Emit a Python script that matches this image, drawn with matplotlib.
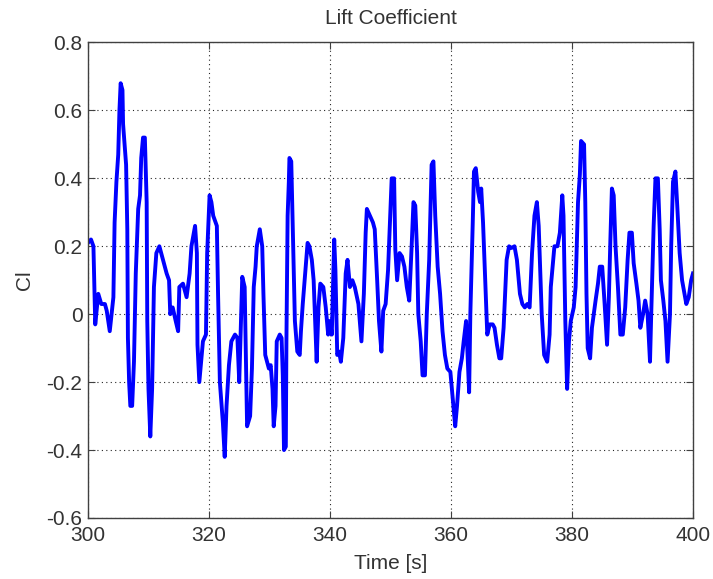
import matplotlib
matplotlib.use("Agg")
import matplotlib.pyplot as plt

plt.rcParams['font.family'] = ['Liberation Sans', 'DejaVu Sans']
plt.rcParams['axes.unicode_minus'] = False

# time samples [s]
time = [300.0, 300.5, 300.9, 301.2, 301.7, 302.2, 302.8, 303.1, 303.6, 304.2,
        304.4, 304.7, 305.0, 305.2, 305.4, 305.7, 305.8, 306.3, 306.5, 306.6,
        306.8, 307.0, 307.3, 307.6, 307.9, 308.3, 308.6, 308.8, 309.1, 309.4,
        309.7, 309.8, 310.0, 310.3, 310.6, 310.9, 311.3, 311.8, 312.4, 313.0,
        313.4, 313.6, 314.0, 314.5, 314.9, 315.1, 315.7, 316.3, 316.8, 317.1,
        317.7, 318.0, 318.1, 318.4, 319.0, 319.5, 319.7, 320.1, 320.4, 320.7,
        321.3, 321.5, 321.8, 322.3, 322.6, 322.9, 323.3, 323.7, 324.3, 324.7,
        325.0, 325.2, 325.5, 325.9, 326.3, 326.8, 327.1, 327.4, 327.7, 327.9,
        328.4, 328.8, 329.0, 329.3, 329.9, 330.2, 330.5, 330.7, 331.0, 331.2,
        331.7, 332.0, 332.2, 332.4, 332.7, 332.8, 333.0, 333.2, 333.3, 333.6,
        333.8, 334.0, 334.2, 334.6, 335.0, 335.2, 335.5, 335.9, 336.3, 336.6,
        337.0, 337.3, 337.8, 338.1, 338.4, 338.9, 339.3, 339.7, 340.0, 340.3,
        340.7, 340.9, 341.2, 341.5, 341.8, 342.2, 342.6, 342.9, 343.3, 343.7,
        344.1, 344.7, 345.2, 345.6, 345.9, 346.1, 346.6, 347.1, 347.4, 347.8,
        348.1, 348.5, 348.8, 349.2, 349.6, 350.2, 350.6, 350.8, 351.1, 351.5,
        351.9, 352.3, 352.7, 353.1, 353.5, 353.8, 354.1, 354.4, 354.6, 355.0,
        355.3, 355.7, 356.0, 356.4, 356.8, 357.1, 357.4, 357.8, 358.2, 358.6,
        359.0, 359.4, 359.9, 360.4, 360.7, 361.0, 361.4, 361.8, 362.1, 362.5,
        362.7, 363.0, 363.2, 363.6, 363.8, 364.1, 364.5, 364.8, 365.0, 365.3,
        365.6, 366.0, 366.4, 366.9, 367.2, 367.6, 368.0, 368.3, 368.7, 369.2,
        369.6, 370.0, 370.5, 370.9, 371.4, 371.8, 372.2, 372.6, 373.0, 373.4,
        373.8, 374.2, 374.5, 375.0, 375.4, 375.9, 376.3, 376.5, 376.9, 377.1,
        377.6, 378.0, 378.4, 378.6, 378.9, 379.2, 379.5, 379.8, 380.3, 380.6,
        381.0, 381.3, 381.5, 382.0, 382.2, 382.4, 382.6, 383.0, 383.3, 383.9,
        384.3, 384.6, 385.0, 385.4, 385.8, 386.1, 386.35, 386.6, 386.9, 387.2,
        387.6, 388.0, 388.4, 388.8, 389.2, 389.5, 389.9, 390.2, 390.65, 391.0,
        391.3, 391.75, 392.1, 392.5, 392.9, 393.1, 393.5, 393.8, 394.2, 394.5,
        394.7, 395.1, 395.45, 395.8, 396.2, 396.4, 396.7, 397.1, 397.4, 397.8,
        398.2, 398.6, 398.9, 399.3, 399.7, 400.0]

# lift coefficient at those times
cl = [0.21, 0.22, 0.20, -0.03, 0.06, 0.03, 0.03, 0.01, -0.05, 0.05,
      0.27, 0.39, 0.47, 0.60, 0.68, 0.66, 0.56, 0.44, 0.25, -0.07,
      -0.20, -0.27, -0.27, -0.14, 0.12, 0.31, 0.35, 0.46, 0.52, 0.52,
      0.33, -0.02, -0.22, -0.36, -0.22, 0.08, 0.18, 0.20, 0.16, 0.12,
      0.10, 0.00, 0.02, -0.02, -0.05, 0.08, 0.09, 0.05, 0.12, 0.20,
      0.26, 0.18, -0.09, -0.20, -0.08, -0.06, 0.18, 0.35, 0.33, 0.29,
      0.26, 0.06, -0.20, -0.32, -0.42, -0.27, -0.15, -0.08, -0.06, -0.07,
      -0.20, -0.08, 0.11, 0.08, -0.33, -0.30, -0.16, 0.08, 0.14, 0.20,
      0.25, 0.20, 0.06, -0.12, -0.16, -0.15, -0.22, -0.33, -0.27, -0.08,
      -0.06, -0.07, -0.18, -0.40, -0.39, -0.08, 0.29, 0.39, 0.46, 0.45,
      0.29, 0.12, -0.02, -0.11, -0.12, -0.05, 0.03, 0.12, 0.21, 0.20,
      0.16, 0.10, -0.14, 0.02, 0.09, 0.08, 0.02, -0.06, -0.02, -0.06,
      0.22, 0.13, -0.12, -0.11, -0.14, -0.07, 0.12, 0.16, 0.08, 0.10,
      0.08, 0.03, -0.08, 0.06, 0.24, 0.31, 0.29, 0.27, 0.25, 0.10,
      -0.02, -0.11, 0.01, 0.03, 0.13, 0.40, 0.40, 0.19, 0.10, 0.18,
      0.17, 0.14, 0.08, 0.04, 0.20, 0.33, 0.32, 0.18, 0.00, -0.08,
      -0.18, -0.18, 0.00, 0.16, 0.44, 0.45, 0.29, 0.14, 0.06, -0.05,
      -0.12, -0.16, -0.17, -0.27, -0.33, -0.27, -0.17, -0.13, -0.08, -0.02,
      -0.10, -0.23, 0.00, 0.27, 0.42, 0.43, 0.36, 0.33, 0.37, 0.27,
      0.13, -0.06, -0.03, -0.03, -0.04, -0.09, -0.13, -0.13, -0.04, 0.16,
      0.20, 0.195, 0.20, 0.16, 0.06, 0.03, 0.02, 0.03, 0.02, 0.18,
      0.29, 0.33, 0.26, 0.00, -0.12, -0.14, -0.06, 0.08, 0.16, 0.20,
      0.20, 0.24, 0.35, 0.29, -0.02, -0.22, -0.08, -0.02, 0.02, 0.08,
      0.33, 0.41, 0.51, 0.50, 0.33, 0.06, -0.10, -0.13, -0.04, 0.04,
      0.09, 0.14, 0.14, 0.03, -0.09, 0.05, 0.22, 0.37, 0.35, 0.20,
      0.08, -0.06, -0.06, 0.02, 0.16, 0.24, 0.24, 0.15, 0.09, 0.04,
      -0.04, 0.00, 0.04, 0.00, -0.14, 0.00, 0.26, 0.40, 0.40, 0.25,
      0.10, 0.04, -0.02, -0.14, 0.00, 0.20, 0.39, 0.42, 0.32, 0.18,
      0.10, 0.06, 0.03, 0.05, 0.10, 0.12]

xticks = [300, 320, 340, 360, 380, 400]
yticks = [-0.6, -0.4, -0.2, 0, 0.2, 0.4, 0.6, 0.8]
ylabels = ['-0.6', '-0.4', '-0.2', '0', '0.2', '0.4', '0.6', '0.8']

fig = plt.figure(figsize=(7.13, 5.79), dpi=100)
ax = fig.add_axes([0.1234, 0.1054, 0.8485, 0.8212])

ax.plot(time, cl, color=(0, 0, 1), lw=2.8)

ax.set_xlim(300, 400)
ax.set_ylim(-0.6, 0.8)
ax.set_xticks(xticks)
ax.set_yticks(yticks)
ax.set_yticklabels(ylabels)
ax.grid(True, color='0.15', linestyle=(0, (1, 3)), lw=0.8)
ax.tick_params(direction='in', length=5, width=0.8, top=True, right=True,
               labelsize=15, colors='0.25', labelcolor='0.2')
ax.tick_params(axis='x', pad=6)
ax.tick_params(axis='y', pad=4)
for s in ax.spines.values():
    s.set_color('0.25')
    s.set_linewidth(1.0)

ax.set_title('Lift Coefficient', fontsize=15, color='0.2', pad=13)
ax.set_xlabel('Time [s]', fontsize=15, color='0.2', labelpad=6)
ax.set_ylabel('Cl', fontsize=15, color='0.2', labelpad=9)

fig.savefig('out.png', dpi=100)
